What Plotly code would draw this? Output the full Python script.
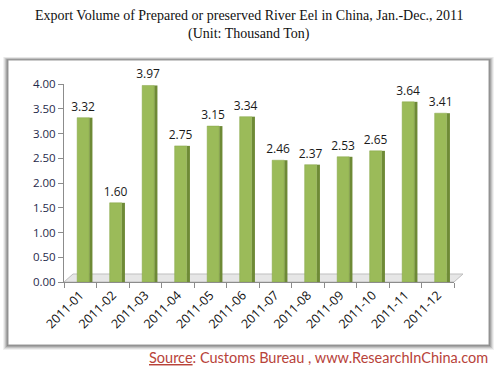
import plotly.graph_objects as go

months = ["2011-01", "2011-02", "2011-03", "2011-04", "2011-05", "2011-06",
          "2011-07", "2011-08", "2011-09", "2011-10", "2011-11", "2011-12"]
volume = [3.32, 1.60, 3.97, 2.75, 3.15, 3.34, 2.46, 2.37, 2.53, 2.65, 3.64, 3.41]
yticks = [0, 0.5, 1.0, 1.5, 2.0, 2.5, 3.0, 3.5, 4.0]

W, H = 498, 371
L, R, T, B = 64, 44, 84, 89


def px_x(x):
    return (x - L) / (W - L - R)


def px_y(y):
    return (H - B - y) / (H - T - B)


fig = go.Figure()
# side face (3D look)
fig.add_trace(go.Bar(x=months, y=volume, width=0.1, offset=0.275,
                     marker=dict(color="#6E8A36", line=dict(width=0)),
                     hoverinfo="skip", showlegend=False))
# front face
fig.add_trace(go.Bar(x=months, y=volume, width=0.37, offset=-0.095,
                     marker=dict(color="#9BBB59", line=dict(color="#86A548", width=0.5)),
                     text=[f"{v:.2f}" for v in volume], textposition="outside",
                     constraintext="none",
                     textfont=dict(family="Open Sans, Lato, sans-serif", size=12, color="#1a1a1a"),
                     cliponaxis=False, showlegend=False))

shapes = []
for i, op in enumerate([0.08, 0.12, 0.18, 0.25, 0.32]):
    d = 5 - i
    shapes.append(dict(type="rect", xref="paper", yref="paper", layer="below",
                       x0=px_x(8 - d), x1=px_x(489 + d), y0=px_y(345 + d), y1=px_y(60 - d * 0.6),
                       fillcolor=f"rgba(80,80,80,{op})", line=dict(width=0)))
shapes.append(dict(type="rect", xref="paper", yref="paper", layer="below",
                   x0=px_x(8), x1=px_x(489), y0=px_y(345), y1=px_y(60),
                   fillcolor="white", line=dict(color="#9a9a9a", width=1)))
# floor
shapes.append(dict(type="path", xref="paper", yref="paper", layer="below",
                   path=f"M {px_x(64)},{px_y(282)} L {px_x(454)},{px_y(282)} L {px_x(463)},{px_y(274)} L {px_x(73)},{px_y(274)} Z",
                   fillcolor="#e6e6e6", line=dict(color="#bfbfbf", width=1)))

annotations = [
    dict(text="Export Volume of Prepared or preserved River Eel in China, Jan.-Dec., 2011",
         xref="paper", yref="paper", x=px_x(249), y=px_y(15), showarrow=False,
         font=dict(family="Liberation Serif, DejaVu Serif, serif", size=14, color="#111"),
         xanchor="center", yanchor="middle"),
    dict(text="(Unit: Thousand Ton)",
         xref="paper", yref="paper", x=px_x(249), y=px_y(34), showarrow=False,
         font=dict(family="Liberation Serif, DejaVu Serif, serif", size=14, color="#111"),
         xanchor="center", yanchor="middle"),
    dict(text="<u>Source</u>: Customs Bureau , www.ResearchInChina.com",
         xref="paper", yref="paper", x=px_x(490), y=px_y(357), showarrow=False,
         font=dict(family="Lato, Open Sans, sans-serif", size=14.5, color="#B8433A"),
         xanchor="right", yanchor="middle"),
]

fig.update_layout(
    width=W, height=H,
    margin=dict(l=L, r=R, t=T, b=B),
    paper_bgcolor="white", plot_bgcolor="rgba(0,0,0,0)",
    barmode="overlay", bargap=0.3,
    shapes=shapes, annotations=annotations,
    xaxis=dict(type="category", tickangle=-45, showline=True, linecolor="#8c8c8c", linewidth=1,
               ticks="outside", ticklen=5, tickcolor="#8c8c8c", tickson="boundaries",
               tickfont=dict(family="Open Sans, Lato, sans-serif", size=12.5, color="#111"),
               showgrid=False, range=[-0.5, 11.5]),
    yaxis=dict(range=[0, 4.0], tickvals=yticks, tickformat=".2f",
               showline=True, linecolor="#8c8c8c", linewidth=1,
               ticks="outside", ticklen=5, tickcolor="#8c8c8c",
               tickfont=dict(family="Open Sans, Lato, sans-serif", size=11.5, color="#1f2a4a"),
               showgrid=False, zeroline=False),
)

fig.write_html("out.html", config={"displayModeBar": False},
               post_script="document.body.style.margin='0';document.body.style.overflow='hidden';")
